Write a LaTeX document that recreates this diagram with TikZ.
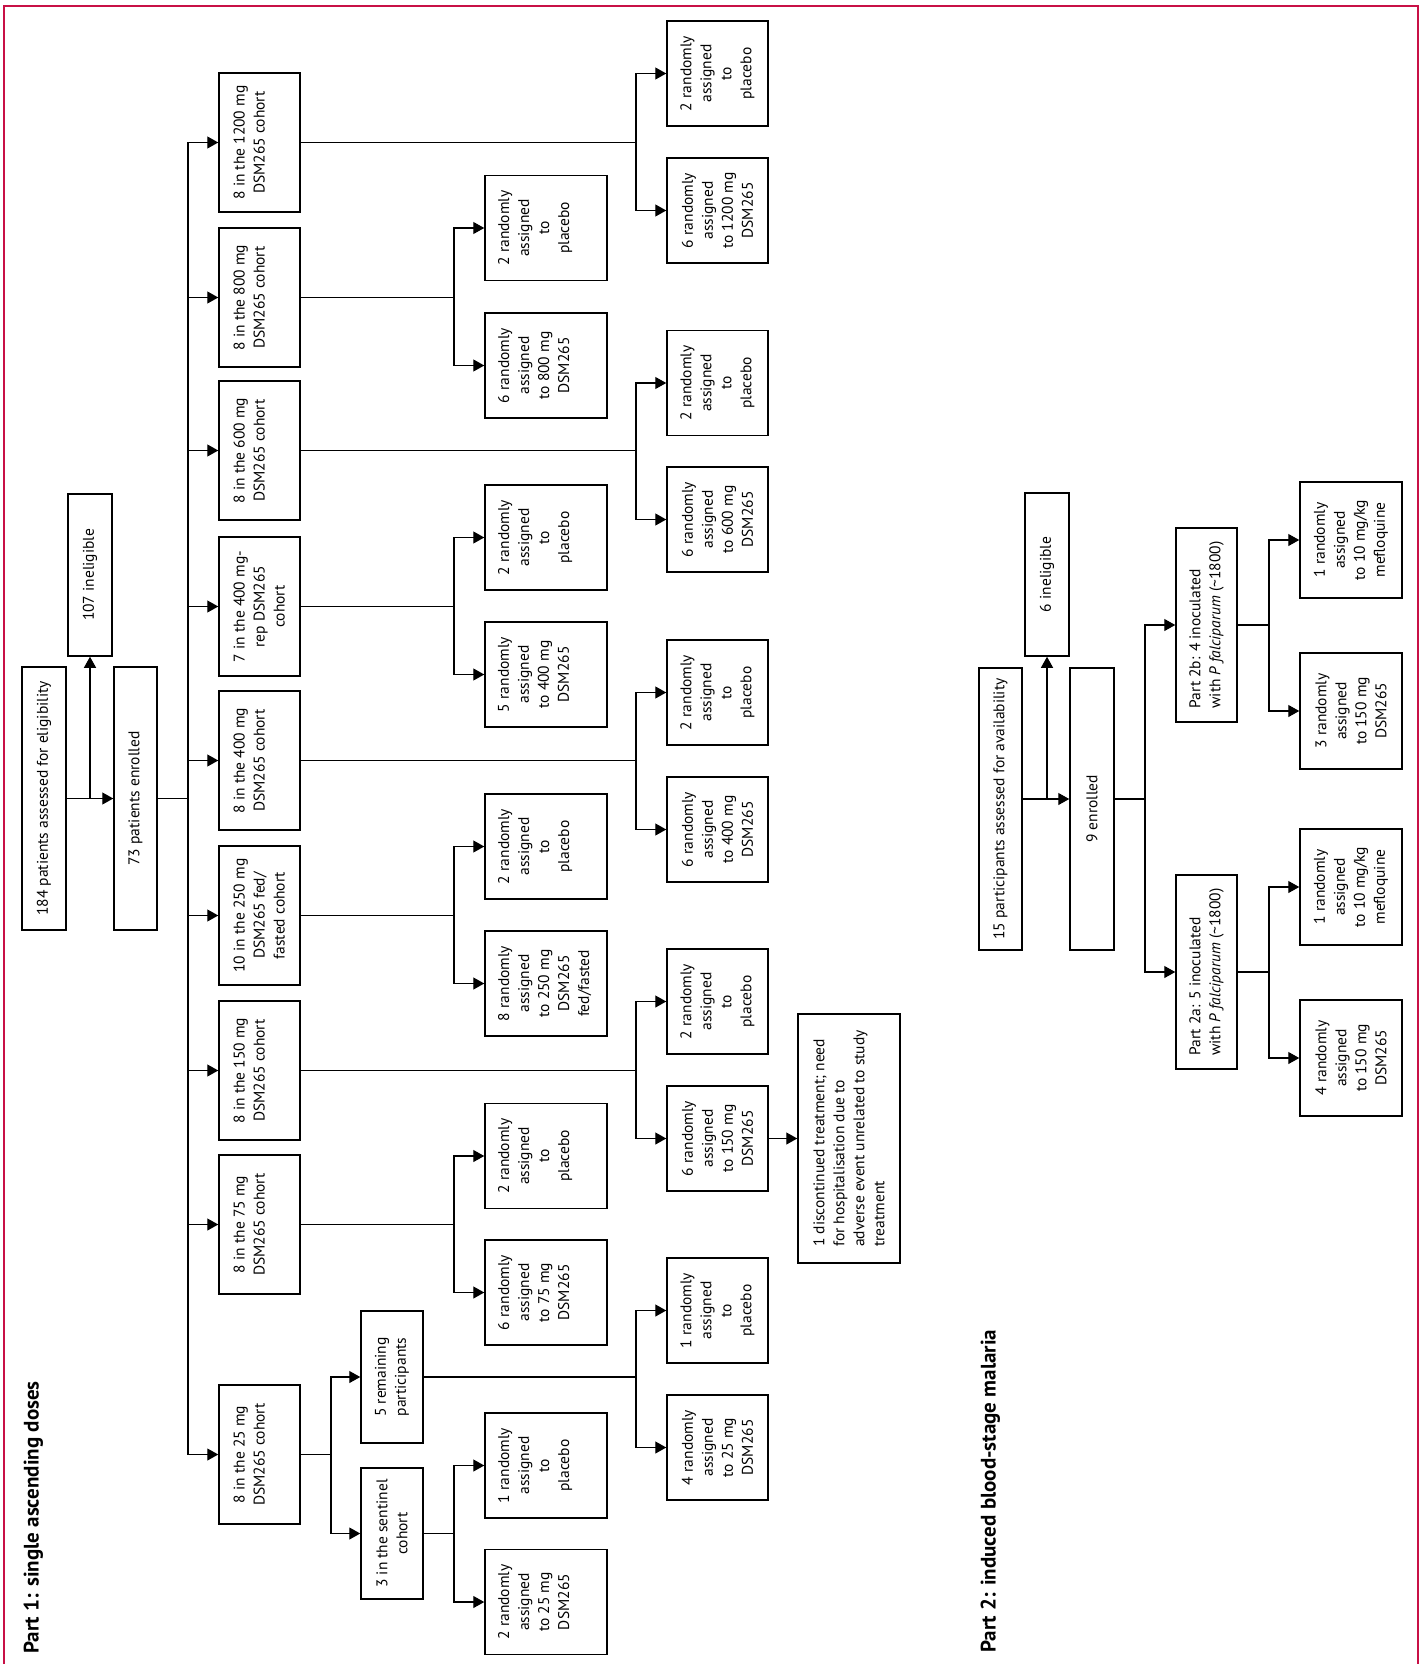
\documentclass[tikz,border=0pt]{standalone}
\usepackage{fontspec}
\setmainfont{PT Sans}
\usepackage{tikz}
\usetikzlibrary{arrows.meta}
\definecolor{FrameRed}{RGB}{200,16,70}

\tikzset{
	boxbase/.style={draw, line width=1.5pt, rotate=90, inner sep=0pt,
		font=\fontsize{15.5}{20}\selectfont},
	box/.style={boxbase, align=center},
	cohort/.style={boxbase, minimum width=139pt, minimum height=81pt,
		execute at begin node={\begin{minipage}[c][52pt][t]{132pt}\centering},
		execute at end node={\end{minipage}}},
	armmid/.style={boxbase, minimum width=105pt, minimum height=122pt,
		execute at begin node={\begin{minipage}[c][96pt][t]{100pt}\centering},
		execute at end node={\end{minipage}}},
	armend/.style={box, minimum width=105pt, minimum height=101pt},
	armtwo/.style={box, minimum width=116pt, minimum height=102pt},
	title/.style={rotate=90, inner sep=0pt, font=\bfseries\fontsize{21}{25}\selectfont},
	link/.style={line width=1.2pt},
	linkarrow/.style={link, -{Triangle[length=11pt,width=12pt]}},
	frame/.style={draw=FrameRed, line width=2pt},
}

\begin{document}
\begin{tikzpicture}[x=1pt, y=-1pt]
	\useasboundingbox (0,0) rectangle (1423,1664);
	
	% ---------------------
	% Frame
	\draw[frame] (4,1664) -- (4,6) -- (1418,6) -- (1418,1664);
	
	% ---------------------
	% Part 1: screening
	\node[title, anchor=base west] (TitleOne) at (38.5,1654) {Part 1: single ascending doses};
	\node[box, minimum width=263pt, minimum height=44pt] (Assessed) at (44,798.5) {184 patients assessed for eligibility};
	\node[box, minimum width=162pt, minimum height=44pt] (Ineligible) at (90,575) {107 ineligible};
	\node[box, minimum width=263pt, minimum height=43pt] (Enrolled) at (135.5,798.5) {73 patients enrolled};
	\coordinate (Trunk) at (188,798.5);
	
	% ---------------------
	% Part 1: cohorts
	\node[cohort] (Cohort1200) at (259.5,142.5) {8 in the 1200 mg\\DSM265 cohort};
	\node[cohort] (Cohort800)  at (259.5,297.5) {8 in the 800 mg\\DSM265 cohort};
	\node[cohort] (Cohort600)  at (259.5,450.5) {8 in the 600 mg\\DSM265 cohort};
	\node[cohort] (CohortRep)  at (259.5,606.5) {7 in the 400 mg-\\rep DSM265\\cohort};
	\node[cohort] (Cohort400)  at (259.5,760.5) {8 in the 400 mg\\DSM265 cohort};
	\node[cohort] (Cohort250)  at (259.5,915.5) {10 in the 250 mg\\DSM265 fed/\\fasted cohort};
	\node[cohort] (Cohort150)  at (259.5,1070.5) {8 in the 150 mg\\DSM265 cohort};
	\node[cohort] (Cohort75)   at (259.5,1224.5) {8 in the 75 mg\\DSM265 cohort};
	\node[cohort] (Cohort25)   at (259.5,1454.5) {8 in the 25 mg\\DSM265 cohort};
	
	\node[box, minimum width=132pt, minimum height=62pt] (Remaining) at (392,1377) {5 remaining\\participants};
	\node[box, minimum width=131pt, minimum height=62pt] (Sentinel) at (392,1533.5) {3 in the sentinel\\cohort};
	
	% ---------------------
	% Part 1: random assignment
	\node[armmid] (Placebo800) at (546,228)    {2 randomly\\assigned\\to\\placebo};
	\node[armmid] (Dose800)    at (546,365.5)  {6 randomly\\assigned\\to 800 mg\\DSM265};
	\node[armmid] (PlaceboRep) at (546,537.5)  {2 randomly\\assigned\\to\\placebo};
	\node[armmid] (DoseRep)    at (546,674.5)  {5 randomly\\assigned\\to 400 mg\\DSM265};
	\node[armmid] (Placebo250) at (546,846.5)  {2 randomly\\assigned\\to\\placebo};
	\node[armmid] (Dose250)    at (546,983.5)  {8 randomly\\assigned\\to 250 mg\\DSM265\\fed/fasted};
	\node[armmid] (Placebo75)  at (546,1156)   {2 randomly\\assigned\\to\\placebo};
	\node[armmid] (Dose75)     at (546,1292.5) {6 randomly\\assigned\\to 75 mg\\DSM265};
	\node[armmid] (PlaceboSen) at (546,1465.5) {1 randomly\\assigned\\to\\placebo};
	\node[armmid] (DoseSen)    at (546,1602)   {2 randomly\\assigned\\to 25 mg\\DSM265};
	
	\node[armend] (Placebo1200) at (717.5,73.5)   {2 randomly\\assigned\\to\\placebo};
	\node[armend] (Dose1200)    at (717.5,210.5)  {6 randomly\\assigned\\to 1200 mg\\DSM265};
	\node[armend] (Placebo600)  at (717.5,383)    {2 randomly\\assigned\\to\\placebo};
	\node[armend] (Dose600)     at (717.5,519.5)  {6 randomly\\assigned\\to 600 mg\\DSM265};
	\node[armend] (Placebo400)  at (717.5,692.5)  {2 randomly\\assigned\\to\\placebo};
	\node[armend] (Dose400)     at (717.5,829.5)  {6 randomly\\assigned\\to 400 mg\\DSM265};
	\node[armend] (Placebo150)  at (717.5,1001.5) {2 randomly\\assigned\\to\\placebo};
	\node[armend] (Dose150)     at (717.5,1138.5) {6 randomly\\assigned\\to 150 mg\\DSM265};
	\node[armend] (PlaceboRem)  at (717.5,1310.5) {1 randomly\\assigned\\to\\placebo};
	\node[armend] (DoseRem)     at (717.5,1447.5) {4 randomly\\assigned\\to 25 mg\\DSM265};
	
	\node[box, align=left, minimum width=249pt, minimum height=102pt] (Discontinued) at (849,1138.5)
		{1 discontinued treatment; need\\for hospitalisation due to\\adverse event unrelated to study\\treatment};
	
	% ---------------------
	% Part 2
	\node[title, anchor=base west] (TitleTwo) at (995.5,1653) {Part 2: induced blood-stage malaria};
	\node[box, minimum width=282pt, minimum height=43pt] (Screened) at (1000.5,809) {15 participants assessed for availability};
	\node[box, minimum width=163pt, minimum height=44pt] (IneligibleSix) at (1047,574.5) {6 ineligible};
	\node[box, minimum width=282pt, minimum height=44pt] (EnrolledNine) at (1092,809) {9 enrolled};
	
	\node[box, align=left, minimum width=194pt, minimum height=61pt] (PartTwoB) at (1206.5,625)
		{Part 2b: 4 inoculated\\with \textit{P falciparum} (\textasciitilde1800)};
	\node[box, align=left, minimum width=194pt, minimum height=61pt] (PartTwoA) at (1206.5,972)
		{Part 2a: 5 inoculated\\with \textit{P falciparum} (\textasciitilde1800)};
	
	\node[armtwo] (MefloB) at (1351,540)  {1 randomly\\assigned\\to 10 mg/kg\\mefloquine};
	\node[armtwo] (DoseB)  at (1351,711)  {3 randomly\\assigned\\to 150 mg\\DSM265};
	\node[armtwo] (MefloA) at (1351,887)  {1 randomly\\assigned\\to 10 mg/kg\\mefloquine};
	\node[armtwo] (DoseA)  at (1351,1058) {4 randomly\\assigned\\to 150 mg\\DSM265};
	
	% ------------------------------------------------
	% Connectors
	\draw[linkarrow] (Assessed.south) -- (Enrolled.north);
	\draw[linkarrow] (Assessed.south -| Ineligible) -- (Ineligible.west);
	\draw[link] (Enrolled.south) -- (Trunk);
	\foreach \c in {Cohort1200,Cohort800,Cohort600,CohortRep,Cohort400,Cohort250,Cohort150,Cohort75,Cohort25}
		\draw[linkarrow] (Trunk) |- (\c.north);
	
	\foreach \p/\a/\b/\bx in {
		Cohort1200/Placebo1200/Dose1200/636,
		Cohort800/Placebo800/Dose800/454,
		Cohort600/Placebo600/Dose600/636,
		CohortRep/PlaceboRep/DoseRep/454,
		Cohort400/Placebo400/Dose400/636,
		Cohort250/Placebo250/Dose250/454,
		Cohort150/Placebo150/Dose150/636,
		Cohort75/Placebo75/Dose75/454,
		Cohort25/Remaining/Sentinel/331,
		Remaining/PlaceboRem/DoseRem/636,
		Sentinel/PlaceboSen/DoseSen/454,
		PartTwoB/MefloB/DoseB/1269,
		PartTwoA/MefloA/DoseA/1269}{
		\draw[link] (\p.south) -- (\bx,0 |- \p.south);
		\draw[linkarrow] (\bx,0 |- \p.south) |- (\a.north);
		\draw[linkarrow] (\bx,0 |- \p.south) |- (\b.north);
	}
	
	\draw[linkarrow] (Dose150.south) -- (Discontinued.north);
	
	\coordinate (JoinFifteen) at ([yshift=10pt]Screened.south);
	\draw[linkarrow] (JoinFifteen) -- (JoinFifteen -| EnrolledNine.north);
	\draw[linkarrow] (JoinFifteen -| IneligibleSix) -- (IneligibleSix.west);
	
	\coordinate (JoinNine) at ([yshift=10pt]EnrolledNine.south);
	\draw[link] (JoinNine) -- (1145,0 |- JoinNine);
	\draw[linkarrow] (1145,0 |- JoinNine) |- (PartTwoB.north);
	\draw[linkarrow] (1145,0 |- JoinNine) |- (PartTwoA.north);
	
\end{tikzpicture}
\end{document}
